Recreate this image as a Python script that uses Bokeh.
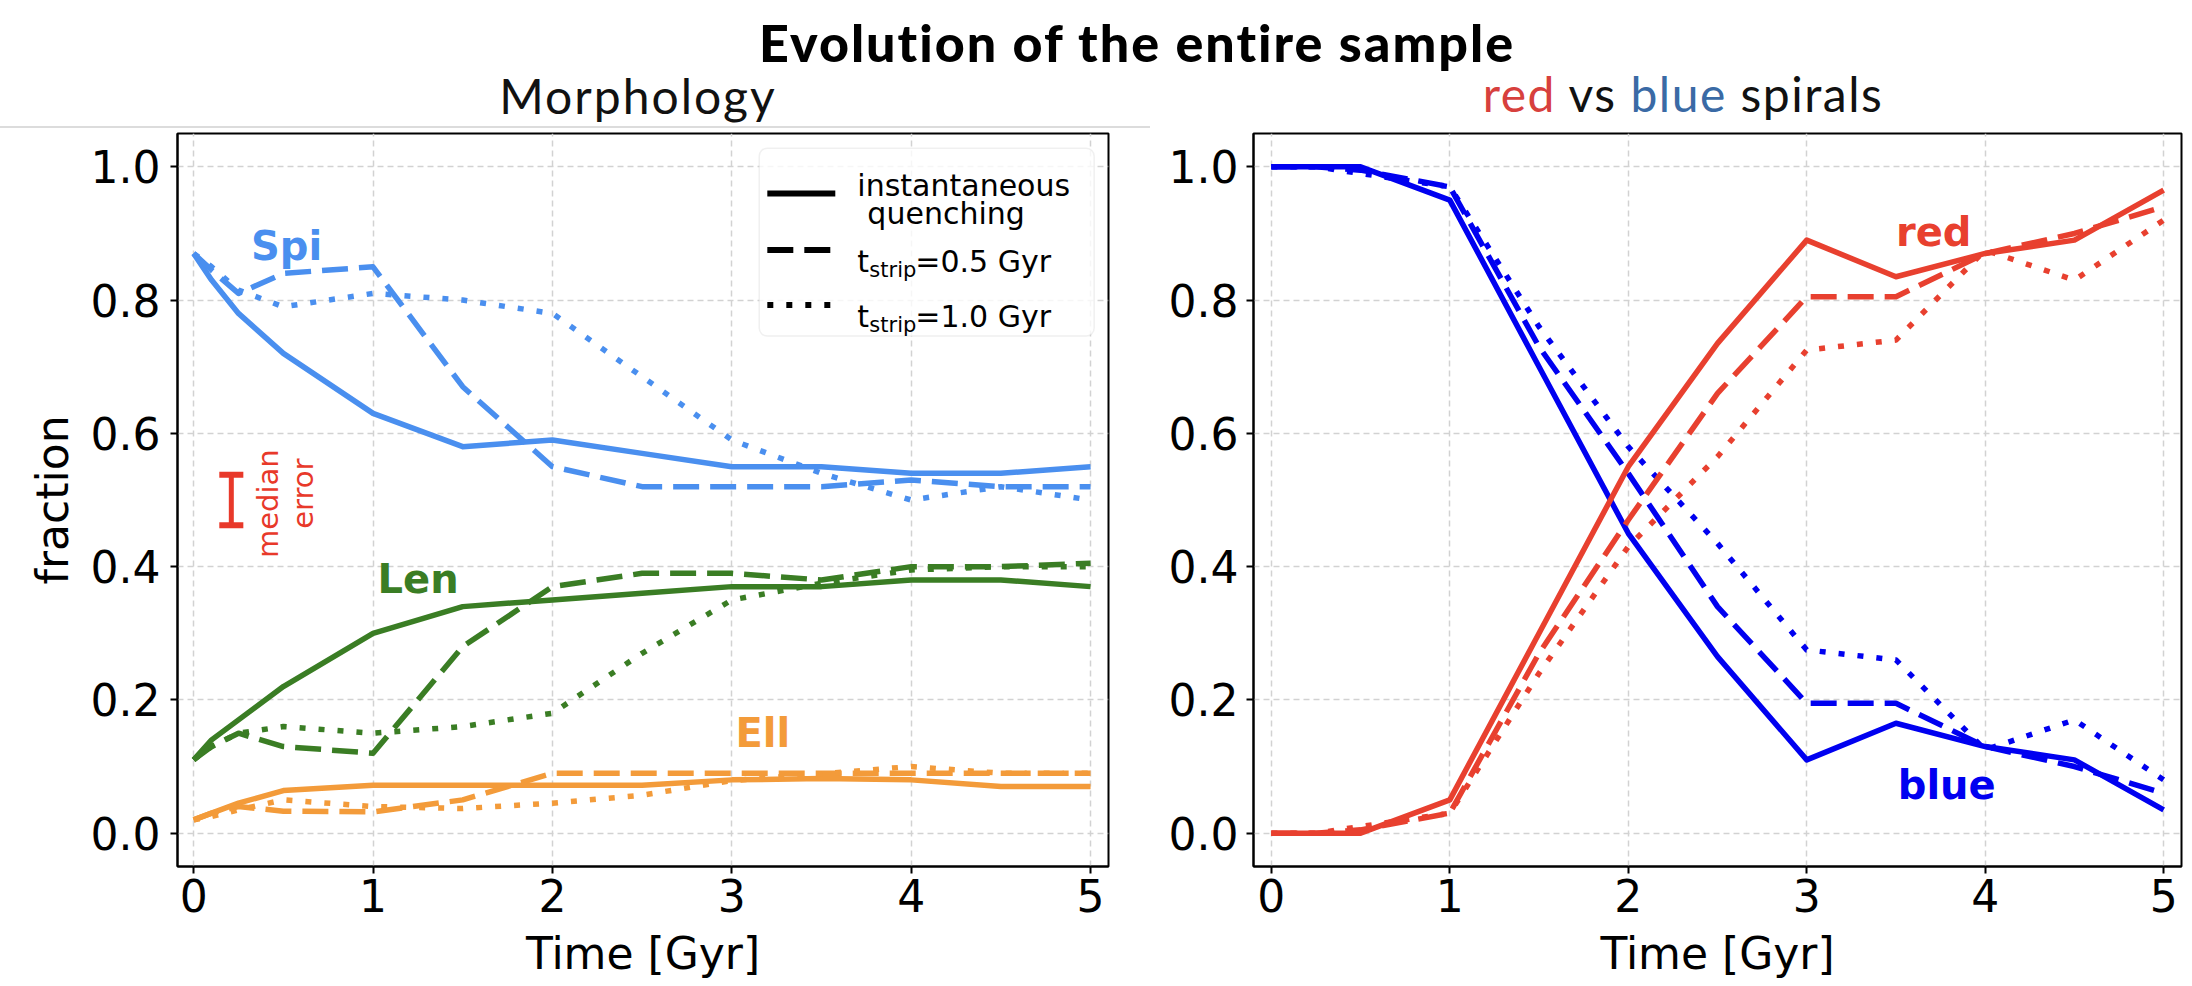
from math import pi
from bokeh.plotting import figure
from bokeh.models import Range1d, FixedTicker, PrintfTickFormatter, BoxAnnotation, Div
from bokeh.layouts import row, column
from bokeh.embed import file_html
from bokeh.resources import INLINE
from bokeh.core.properties import value

# ---------------- data ----------------
time = [0, 0.1, 0.25, 0.5, 1, 1.5, 2, 2.5, 3, 3.5, 4, 4.5, 5]

spi_inst = [0.87, 0.83, 0.78, 0.72, 0.63, 0.58, 0.59, 0.57, 0.55, 0.55, 0.54, 0.54, 0.55]
spi_05 = [0.87, 0.845, 0.81, 0.84, 0.85, 0.67, 0.55, 0.52, 0.52, 0.52, 0.53, 0.52, 0.52]
spi_10 = [0.87, 0.85, 0.815, 0.79, 0.81, 0.80, 0.78, 0.685, 0.59, 0.54, 0.50, 0.52, 0.50]

len_inst = [0.11, 0.14, 0.17, 0.22, 0.30, 0.34, 0.35, 0.36, 0.37, 0.37, 0.38, 0.38, 0.37]
len_05 = [0.11, 0.13, 0.15, 0.13, 0.12, 0.28, 0.37, 0.39, 0.39, 0.38, 0.40, 0.40, 0.405]
len_10 = [0.11, 0.13, 0.15, 0.16, 0.15, 0.16, 0.18, 0.27, 0.35, 0.375, 0.395, 0.40, 0.40]

ell_inst = [0.02, 0.03, 0.045, 0.064, 0.072, 0.072, 0.072, 0.072, 0.08, 0.082, 0.08, 0.07, 0.07]
ell_05 = [0.02, 0.03, 0.04, 0.033, 0.032, 0.05, 0.09, 0.09, 0.09, 0.09, 0.09, 0.09, 0.09]
ell_10 = [0.02, 0.025, 0.035, 0.05, 0.04, 0.037, 0.045, 0.057, 0.079, 0.089, 0.10, 0.09, 0.09]

blue_inst = [1.0, 1.0, 1.0, 1.0, 0.95, 0.70, 0.45, 0.265, 0.11, 0.165, 0.13, 0.11, 0.035]
red_inst = [0.0, 0.0, 0.0, 0.0, 0.05, 0.30, 0.55, 0.735, 0.89, 0.835, 0.87, 0.89, 0.965]
blue_05 = [1.0, 1.0, 1.0, 0.995, 0.97, 0.73, 0.54, 0.34, 0.195, 0.195, 0.13, 0.10, 0.06]
red_05 = [0.0, 0.0, 0.0, 0.005, 0.03, 0.27, 0.47, 0.66, 0.805, 0.805, 0.87, 0.90, 0.94]
blue_10 = [1.0, 1.0, 1.0, 0.99, 0.97, 0.76, 0.58, 0.435, 0.275, 0.26, 0.125, 0.17, 0.08]
red_10 = [0.0, 0.0, 0.0, 0.01, 0.03, 0.24, 0.43, 0.565, 0.725, 0.74, 0.875, 0.83, 0.92]

x_ticks = [0, 1, 2, 3, 4, 5]
y_ticks = [0.0, 0.2, 0.4, 0.6, 0.8, 1.0]

median_err_center = 0.5
median_err_half = 0.038

# ---------------- styles ----------------
SPI = "#4a8fef"
LEN = "#3a7d24"
ELL = "#f39b3a"
RED = "#e8402f"
BLUE = "#0000f0"
ERRC = "#e8392a"
DASH = "26 11"
DOT = "6 13"
LW = 5.5
TICKFONT = "DejaVu Sans"
FIG_H = 857


def make_fig(width, left, right, top, ylabel):
    p = figure(width=width, height=FIG_H, x_range=Range1d(-0.09, 5.1), y_range=Range1d(-0.05, 1.05),
               output_backend="svg", toolbar_location=None,
               min_border_left=left, min_border_right=right, min_border_top=top, min_border_bottom=120)
    p.background_fill_color = "white"
    p.border_fill_color = "white"
    p.outline_line_color = "black"
    p.outline_line_width = 2
    p.outline_line_alpha = 1
    p.xaxis.ticker = FixedTicker(ticks=x_ticks)
    p.yaxis.ticker = FixedTicker(ticks=y_ticks)
    p.yaxis.formatter = PrintfTickFormatter(format="%.1f")
    for ax in (p.xaxis[0], p.yaxis[0]):
        ax.axis_line_color = "black"
        ax.axis_line_width = 2
        ax.major_tick_line_color = "black"
        ax.major_tick_line_width = 2
        ax.major_tick_out = 7
        ax.major_tick_in = 0
        ax.minor_tick_line_color = None
        ax.major_label_text_font = TICKFONT
        ax.major_label_text_font_size = "44px"
        ax.major_label_text_color = "black"
        ax.axis_label_text_font = TICKFONT
        ax.axis_label_text_font_size = "44px"
        ax.axis_label_text_font_style = "normal"
        ax.axis_label_text_color = "black"
    p.xaxis.axis_label = "Time [Gyr]"
    p.xaxis.major_label_standoff = 5
    p.xaxis.axis_label_standoff = 13
    p.yaxis.major_label_standoff = 10
    if ylabel:
        p.yaxis.axis_label = ylabel
        p.yaxis.axis_label_standoff = 10
    for g in (p.xgrid[0], p.ygrid[0]):
        g.grid_line_color = "#d2d2d2"
        g.grid_line_dash = "6 4"
        g.grid_line_width = 1.5
    return p


# ---------------- left panel ----------------
p1 = make_fig(1158, 177, 50, 1, "fraction")

for vals, dsh in ((spi_inst, "solid"), (spi_05, DASH), (spi_10, DOT)):
    p1.line(time, vals, line_color=SPI, line_width=LW, line_dash=dsh, line_join="round")
for vals, dsh in ((len_inst, "solid"), (len_05, DASH), (len_10, DOT)):
    p1.line(time, vals, line_color=LEN, line_width=LW, line_dash=dsh, line_join="round")
for vals, dsh in ((ell_inst, "solid"), (ell_05, DASH), (ell_10, DOT)):
    p1.line(time, vals, line_color=ELL, line_width=LW, line_dash=dsh, line_join="round")

lab_kw = dict(text_font=value(TICKFONT), text_font_style="bold", text_font_size="40px",
              text_align="left", text_baseline="alphabetic")
p1.text(x=[0.32], y=[0.881], text=["Spi"], text_color=SPI, **lab_kw)
p1.text(x=[1.025], y=[0.381], text=["Len"], text_color=LEN, **lab_kw)
p1.text(x=[3.02], y=[0.151], text=["Ell"], text_color=ELL, **lab_kw)

# median error bar
ex = 0.21
ecap = 0.067
p1.segment(x0=[ex], y0=[median_err_center - median_err_half], x1=[ex],
           y1=[median_err_center + median_err_half], line_color=ERRC, line_width=5)
p1.segment(x0=[ex - ecap, ex - ecap], x1=[ex + ecap, ex + ecap],
           y0=[median_err_center - median_err_half, median_err_center + median_err_half],
           y1=[median_err_center - median_err_half, median_err_center + median_err_half],
           line_color=ERRC, line_width=6)
p1.text(x=[0.412], y=[0.4945], text=["median"], angle=pi / 2, text_color=ERRC,
        text_font=value(TICKFONT), text_font_size="29px", text_align="center", text_baseline="alphabetic")
p1.text(x=[0.607], y=[0.5094], text=["error"], angle=pi / 2, text_color=ERRC,
        text_font=value(TICKFONT), text_font_size="29px", text_align="center", text_baseline="alphabetic")

# legend (drawn by hand: two-line entry and subscripts)
box = BoxAnnotation(left=3.153, right=5.02, top=1.028, bottom=0.746, fill_color="white", fill_alpha=0.8,
                    line_color="#cccccc", line_width=1.5, border_radius=8, level="underlay")
p1.add_layout(box)
lx0, lx1 = 3.198, 3.577
p1.line([lx0, lx1], [0.960, 0.960], line_color="black", line_width=6)
p1.line([lx0, lx1], [0.875, 0.875], line_color="black", line_width=6, line_dash="26 11")
p1.line([lx0, lx1], [0.7925, 0.7925], line_color="black", line_width=6, line_dash=DOT)
leg_kw = dict(text_font=value(TICKFONT), text_font_size="30px", text_color="black",
              text_align="left", text_baseline="alphabetic")
tx = 3.70
p1.text(x=[tx], y=[0.9716], text=["instantaneous"], **leg_kw)
p1.text(x=[tx], y=[0.930], text=["quenching"], x_offset=10, **leg_kw)
for yb, lab in ((0.858, "=0.5 Gyr"), (0.776, "=1.0 Gyr")):
    p1.text(x=[tx], y=[yb], text=["t"], **leg_kw)
    p1.text(x=[tx], y=[yb], text=["strip"], x_offset=12, y_offset=9,
            text_font=value(TICKFONT), text_font_size="21px", text_color="black",
            text_align="left", text_baseline="alphabetic")
    p1.text(x=[tx], y=[yb], text=[lab], x_offset=58, **leg_kw)

# ---------------- right panel ----------------
p2 = make_fig(1034, 95, 11, 4, None)
p2.x_range = Range1d(-0.1, 5.1)
p2.yaxis.major_label_standoff = 8

for vals, dsh in ((blue_inst, "solid"), (blue_05, DASH), (blue_10, DOT)):
    p2.line(time, vals, line_color=BLUE, line_width=LW, line_dash=dsh, line_join="round")
for vals, dsh in ((red_inst, "solid"), (red_05, DASH), (red_10, DOT)):
    p2.line(time, vals, line_color=RED, line_width=LW, line_dash=dsh, line_join="round")

p2.text(x=[3.50], y=[0.902], text=["red"], text_color=RED, **lab_kw)
p2.text(x=[3.51], y=[0.072], text=["blue"], text_color=BLUE, **lab_kw)

# ---------------- header ----------------
html = """<div style="position:relative;width:2192px;height:129px;font-family:Lato,'Open Sans',sans-serif;">
<div style="position:absolute;left:637px;top:11px;width:1000px;text-align:center;font-size:52px;line-height:1.2;font-weight:900;letter-spacing:2px;color:#000;white-space:nowrap;">Evolution of the entire sample</div>
<div style="position:absolute;left:338px;top:67px;width:600px;text-align:center;font-size:48px;line-height:1.2;letter-spacing:2px;color:#111;white-space:nowrap;">Morphology</div>
<div style="position:absolute;left:1383px;top:65px;width:600px;text-align:center;font-size:48px;line-height:1.2;letter-spacing:1.5px;color:#111;white-space:nowrap;"><span style="color:#d7403d">red</span> vs <span style="color:#3a6aa5">blue</span> spirals</div>
<div style="position:absolute;left:0px;top:126px;width:1150px;height:2px;background:#dcdcdc;"></div>
</div>"""
header = Div(text=html, width=2192, height=129, margin=(0, 0, 0, 0))

layout = column(header, row(p1, p2, spacing=0), spacing=0)

open("out.html", "w").write(file_html(layout, INLINE))
